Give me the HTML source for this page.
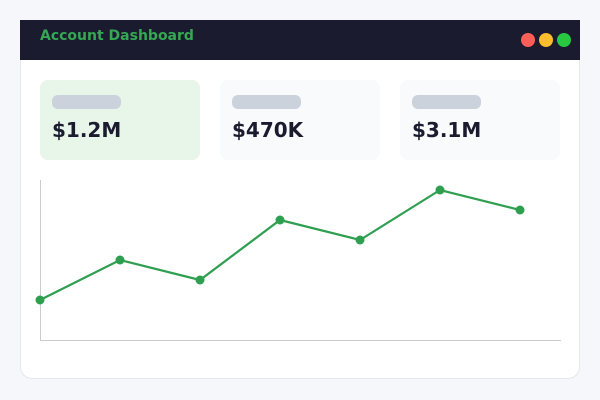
<!DOCTYPE html>
<html><head><meta charset="utf-8"><style>
html,body{margin:0;padding:0;width:600px;height:400px;overflow:hidden;background:#f5f7fa;}
body{position:relative;font-family:"DejaVu Sans","Liberation Sans",sans-serif;}
.card{position:absolute;left:20px;top:20px;width:558px;height:358px;background:#fff;border:1px solid #e4e7eb;border-top:none;border-radius:0 0 12px 12px;}
.hdr{position:absolute;left:20px;top:20px;width:560px;height:40px;background:#1b1b2f;}
.title{position:absolute;left:40px;top:26px;font-size:14px;font-weight:bold;color:#34a853;line-height:20px;white-space:nowrap;}
.dot{position:absolute;top:33px;width:14px;height:14px;border-radius:50%;}
.stat{position:absolute;top:80px;width:160px;height:80px;border-radius:8px;background:#f8fafc;}
.bar{position:absolute;left:12px;top:15px;width:69px;height:14px;border-radius:6px;background:#cbd2dc;}
.val{position:absolute;left:12px;top:36px;font-size:20px;font-weight:bold;color:#1b1b2f;line-height:28px;white-space:nowrap;}
svg{position:absolute;left:0;top:0;}
</style></head><body>
<div class="card"></div>
<div class="hdr"></div>
<div class="title">Account Dashboard</div>
<div class="dot" style="left:521px;background:#ff5f57"></div>
<div class="dot" style="left:539px;background:#febc2e"></div>
<div class="dot" style="left:557px;background:#28c840"></div>
<div class="stat" style="left:40px;background:#e8f5e9"><div class="bar"></div><div class="val">$1.2M</div></div>
<div class="stat" style="left:220px"><div class="bar"></div><div class="val">$470K</div></div>
<div class="stat" style="left:400px"><div class="bar"></div><div class="val">$3.1M</div></div>
<svg width="600" height="400">
<line x1="40.5" y1="180" x2="40.5" y2="340" stroke="#cccccc" stroke-width="1"/>
<line x1="40" y1="340.5" x2="561" y2="340.5" stroke="#cccccc" stroke-width="1"/>
<polyline points="40,300 120,260 200,280 280,220 360,240 440,190 520,210" fill="none" stroke="#2e9e4f" stroke-width="2.2"/>
<g fill="#2e9e4f">
<circle cx="40" cy="300" r="4.5"/><circle cx="120" cy="260" r="4.5"/><circle cx="200" cy="280" r="4.5"/><circle cx="280" cy="220" r="4.5"/><circle cx="360" cy="240" r="4.5"/><circle cx="440" cy="190" r="4.5"/><circle cx="520" cy="210" r="4.5"/>
</g>
</svg>
</body></html>
